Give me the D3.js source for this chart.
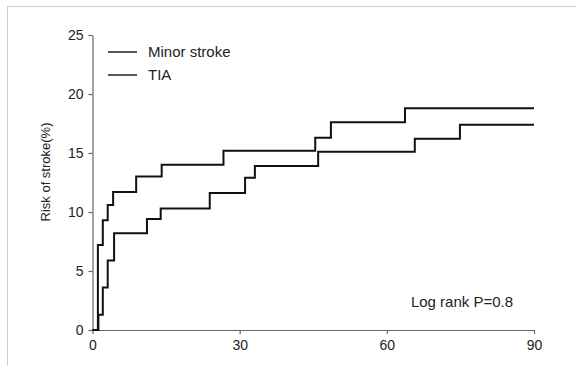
<!DOCTYPE html>
<html>
<head>
<meta charset="utf-8">
<script src="https://cdn.jsdelivr.net/npm/d3@7"></script>
<style>
  body { margin: 0; background: #fff; }
  svg { font-family: "Liberation Sans", Arial, sans-serif; }
</style>
</head>
<body>
<div id="chart"></div>
<script>
// cumulative risk of stroke (%) by days
const minorDays = [0, 1.1, 2.1, 3.1, 4.2, 8.9, 14.1, 26.7, 45.4, 48.6, 63.7, 90];
const minorRisk = [0, 7.2, 9.3, 10.6, 11.7, 13.0, 14.0, 15.2, 16.3, 17.6, 18.8, 18.8];

const tiaDays = [0, 1.2, 2.1, 3.1, 4.4, 11.1, 13.9, 23.9, 31.1, 33.1, 46.0, 65.7, 74.9, 90];
const tiaRisk = [0, 1.3, 3.6, 5.9, 8.2, 9.4, 10.3, 11.6, 12.9, 13.9, 15.1, 16.2, 17.4, 17.4];

const xTicks = [0, 30, 60, 90];
const yTicks = [0, 5, 10, 15, 20, 25];
const seriesNames = ["Minor stroke", "TIA"];

const svg = d3.select("#chart")
  .append("svg")
  .attr("width", 576)
  .attr("height", 366);

// scanned page frame
svg.append("rect")
  .attr("x", 7.5)
  .attr("y", 6.5)
  .attr("width", 620)
  .attr("height", 420)
  .attr("fill", "none")
  .attr("stroke", "#999")
  .attr("stroke-dasharray", "1,1");

const x = d3.scaleLinear()
  .domain([0, 90])
  .range([92.5, 534]);

const y = d3.scaleLinear()
  .domain([0, 25])
  .range([330, 35]);

const xAxis = svg.append("g")
  .attr("transform", "translate(0,330)")
  .call(d3.axisBottom(x).tickValues(xTicks).tickSize(4).tickSizeOuter(0).tickPadding(6));

const yAxis = svg.append("g")
  .attr("transform", "translate(92.5,0)")
  .call(d3.axisLeft(y).tickValues(yTicks).tickSize(4).tickSizeOuter(0).tickPadding(5));

[xAxis, yAxis].forEach(g => {
  g.selectAll("path, line").attr("stroke", "#666").attr("stroke-width", 1.2);
  g.selectAll("text").attr("font-size", 14).attr("fill", "#222")
    .attr("font-family", "Liberation Sans, Arial, sans-serif");
});

svg.append("text")
  .attr("transform", "translate(50,172) rotate(-90)")
  .attr("text-anchor", "middle")
  .attr("font-size", 13)
  .attr("fill", "#222")
  .text("Risk of stroke(%)");

const line = d3.line()
  .x(d => x(d[0]))
  .y(d => y(d[1]))
  .curve(d3.curveStepAfter);

const series = [
  d3.zip(minorDays, minorRisk),
  d3.zip(tiaDays, tiaRisk)
];

series.forEach(values => {
  svg.append("path")
    .datum(values)
    .attr("fill", "none")
    .attr("stroke", "#111")
    .attr("stroke-width", 2)
    .attr("d", line);
});

// legend
seriesNames.forEach((name, i) => {
  const ly = 52 + i * 23;
  svg.append("line")
    .attr("x1", 108).attr("x2", 137)
    .attr("y1", ly).attr("y2", ly)
    .attr("stroke", "#222")
    .attr("stroke-width", 1.5);
  svg.append("text")
    .attr("x", 148)
    .attr("y", ly + 5)
    .attr("font-size", 15)
    .attr("fill", "#222")
    .text(name);
});

svg.append("text")
  .attr("x", 462)
  .attr("y", 307)
  .attr("text-anchor", "middle")
  .attr("font-size", 15)
  .attr("fill", "#222")
  .text("Log rank P=0.8");
</script>
</body>
</html>
